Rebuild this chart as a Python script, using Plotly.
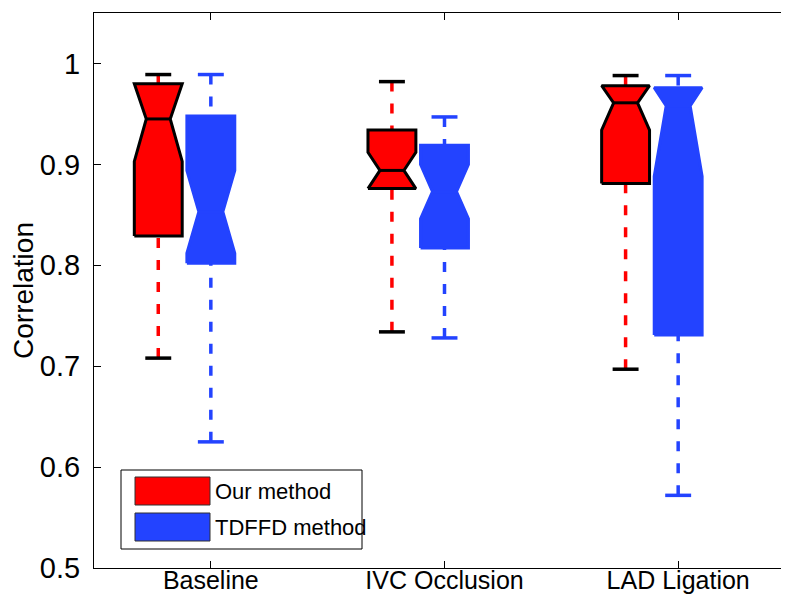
import plotly.graph_objects as go

categories = ["Baseline", "IVC Occlusion", "LAD Ligation"]
series_names = ["Our method", "TDFFD method"]

# Our method (red) box statistics
our_lower = [0.708, 0.734, 0.697]
our_q1 = [0.829, 0.876, 0.881]
our_median = [0.945, 0.894, 0.961]
our_q3 = [0.980, 0.934, 0.978]
our_upper = [0.989, 0.982, 0.988]
our_notch = [0.042, 0.018, 0.027]

# TDFFD method (blue) box statistics
tdffd_lower = [0.625, 0.728, 0.572]
tdffd_q1 = [0.802, 0.817, 0.731]
tdffd_median = [0.853, 0.873, 0.958]
tdffd_q3 = [0.948, 0.919, 0.976]
tdffd_upper = [0.989, 0.947, 0.988]
tdffd_notch = [0.041, 0.027, 0.070]

RED = "#FF0000"
BLUE = "#2343FF"
BOX_W = 0.205
CAP_W = 0.111
OFFSETS = [-0.225, 0.0]

fig = go.Figure()

series = [
    dict(name=series_names[0], lower=our_lower, q1=our_q1, med=our_median, q3=our_q3,
         upper=our_upper, notch=our_notch, fill=RED, edge="black", wcol=RED, cap="black"),
    dict(name=series_names[1], lower=tdffd_lower, q1=tdffd_q1, med=tdffd_median, q3=tdffd_q3,
         upper=tdffd_upper, notch=tdffd_notch, fill=BLUE, edge=BLUE, wcol=BLUE, cap=BLUE),
]

# whiskers first (behind boxes)
for s, off in zip(series, OFFSETS):
    for i in range(len(categories)):
        c = i + 1 + off
        for a, b in ((s["upper"][i], s["q3"][i]), (s["lower"][i], s["q1"][i])):
            fig.add_trace(go.Scatter(x=[c, c], y=[a, b], mode="lines",
                                     line=dict(color=s["wcol"], width=3.5, dash="10px,12px"),
                                     showlegend=False, hoverinfo="skip"))

# boxes
for s, off in zip(series, OFFSETS):
    for i in range(len(categories)):
        c = i + 1 + off
        h = BOX_W / 2
        nw = BOX_W / 4
        q1, med, q3, n = s["q1"][i], s["med"][i], s["q3"][i], s["notch"][i]
        lo = max(med - n, q1)
        hi = min(med + n, q3)
        xs = [c - h, c - h, c - nw, c - h, c - h, c + h, c + h, c + nw, c + h, c + h, c - h]
        ys = [q1, lo, med, hi, q3, q3, hi, med, lo, q1, q1]
        fig.add_trace(go.Scatter(x=xs, y=ys, mode="lines", fill="toself",
                                 fillcolor=s["fill"], line=dict(color=s["edge"], width=3),
                                 showlegend=False, hoverinfo="skip"))
        fig.add_trace(go.Scatter(x=[c - nw, c + nw], y=[med, med], mode="lines",
                                 line=dict(color=s["edge"], width=3),
                                 showlegend=False, hoverinfo="skip"))
        for v in (s["upper"][i], s["lower"][i]):
            fig.add_trace(go.Scatter(x=[c - CAP_W / 2, c + CAP_W / 2], y=[v, v], mode="lines",
                                     line=dict(color=s["cap"], width=3.5),
                                     showlegend=False, hoverinfo="skip"))

FONT = "Liberation Sans, Arial, Helvetica, sans-serif"

# manual legend (MATLAB style), placed in plot-area pixel terms
PX_L, PX_W, PX_B, PX_H = 86, 701, 560, 555
def px(xp):
    return (xp - PX_L) / PX_W
def py(yp):
    return (PX_B - yp) / PX_H

shapes = [
    dict(type="rect", xref="paper", yref="paper", x0=px(113), x1=px(354), y0=py(541), y1=py(462),
         line=dict(color="black", width=1), fillcolor="white", layer="above"),
    dict(type="rect", xref="paper", yref="paper", x0=px(127), x1=px(202), y0=py(497), y1=py(469),
         line=dict(color="#303030", width=1), fillcolor=RED, layer="above"),
    dict(type="rect", xref="paper", yref="paper", x0=px(127), x1=px(202), y0=py(533), y1=py(505),
         line=dict(color="#303030", width=1), fillcolor=BLUE, layer="above"),
]
annotations = [
    dict(text=series_names[0], xref="paper", yref="paper", x=px(205), y=py(483), xanchor="left",
         yanchor="middle", showarrow=False, font=dict(family=FONT, size=22, color="black")),
    dict(text=series_names[1], xref="paper", yref="paper", x=px(205), y=py(519), xanchor="left",
         yanchor="middle", showarrow=False, font=dict(family=FONT, size=22, color="black")),
]

fig.update_layout(
    width=789, height=597,
    margin=dict(l=86, r=2, t=5, b=37),
    paper_bgcolor="white", plot_bgcolor="white",
    font=dict(family=FONT, size=24, color="black"),
    showlegend=False,
    shapes=shapes, annotations=annotations,
    xaxis=dict(range=[0.5, 3.5], tickvals=[1, 2, 3], ticktext=categories,
               ticks="inside", ticklen=7, tickcolor="black", showline=True, linecolor="black",
               linewidth=1, mirror="ticks", showgrid=False, zeroline=False,
               tickfont=dict(size=25), ticklabelstandoff=-10, automargin=False),
    yaxis=dict(range=[0.5, 1.05], tickvals=[0.5, 0.6, 0.7, 0.8, 0.9, 1.0],
               ticktext=["0.5", "0.6", "0.7", "0.8", "0.9", "1"],
               ticks="inside", ticklen=7, tickcolor="black", showline=True, linecolor="black",
               linewidth=1, mirror="ticks", showgrid=False, zeroline=False,
               tickfont=dict(size=29), ticklabelstandoff=7, automargin=False,
               title=dict(text="Correlation", font=dict(size=28), standoff=0)),
)

fig.write_html("out.html")
